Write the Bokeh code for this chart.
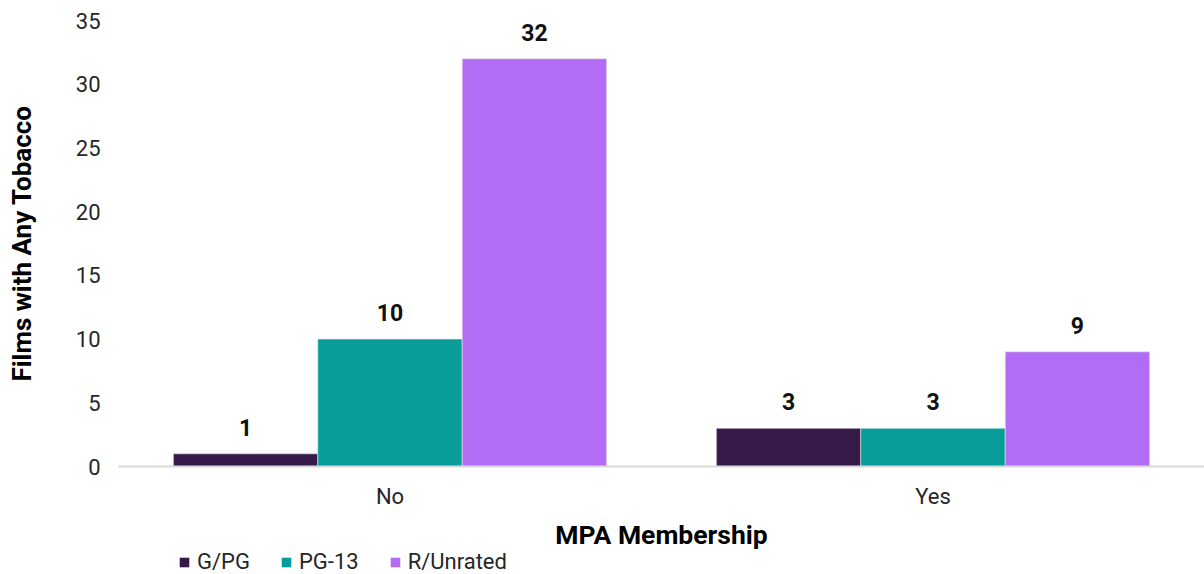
from bokeh.plotting import figure
from bokeh.models import ColumnDataSource, Legend, LegendItem
from bokeh.layouts import column
from bokeh.transform import dodge
from bokeh.embed import file_html
from bokeh.resources import INLINE
from bokeh.core.properties import value

categories = ["No", "Yes"]
series = ["G/PG", "PG-13", "R/Unrated"]
g_pg = [1, 3]
pg13 = [10, 3]
r_unrated = [32, 9]
colors = ["#351a4a", "#089c9a", "#b36cf5"]
y_ticks = [0, 5, 10, 15, 20, 25, 30, 35]

FONT = "Roboto"

p = figure(x_range=categories, y_range=(0, 35),
           frame_width=1086, frame_height=446,
           output_backend="svg", toolbar_location=None,
           min_border_left=118, min_border_right=0, min_border_top=20,
           min_border_bottom=78)
p.outline_line_color = None
p.xgrid.grid_line_color = None
p.ygrid.grid_line_color = None

src = ColumnDataSource(dict(cat=categories, g=g_pg, p13=pg13, r=r_unrated,
                            gl=[str(v) for v in g_pg], pl=[str(v) for v in pg13],
                            rl=[str(v) for v in r_unrated]))

w = 0.266
offsets = [-w, 0, w]
fields = ["g", "p13", "r"]
lfields = ["gl", "pl", "rl"]
for off, f, lf, c in zip(offsets, fields, lfields, colors):
    p.vbar(x=dodge("cat", off, range=p.x_range), top=f, width=w, source=src,
           fill_color=c, line_color="#e8e8e8", line_width=0.6)
    p.text(x=dodge("cat", off, range=p.x_range), y=f, text=lf, source=src,
           text_align="center", text_baseline="bottom", y_offset=-18,
           text_font=value(FONT), text_font_style="bold", text_font_size="23px",
           text_color="#111111")

p.yaxis.ticker = y_ticks
p.yaxis.axis_line_color = None
p.yaxis.major_tick_line_color = None
p.yaxis.minor_tick_line_color = None
p.yaxis.major_label_text_font = FONT
p.yaxis.major_label_text_font_size = "22px"
p.yaxis.major_label_text_color = "#262626"
p.yaxis.major_label_standoff = 12
p.yaxis.axis_label = "Films with Any Tobacco"
p.yaxis.axis_label_text_font = FONT
p.yaxis.axis_label_text_font_style = "bold"
p.yaxis.axis_label_text_font_size = "26px"
p.yaxis.axis_label_text_color = "#000000"
p.yaxis.axis_label_standoff = 36

p.xaxis.axis_line_color = "#d9d9d9"
p.xaxis.axis_line_width = 2
p.xaxis.major_tick_line_color = None
p.xaxis.minor_tick_line_color = None
p.xaxis.major_label_text_font = FONT
p.xaxis.major_label_text_font_size = "22px"
p.xaxis.major_label_text_color = "#262626"
p.xaxis.major_label_standoff = 11
p.xaxis.axis_label = "MPA Membership"
p.xaxis.axis_label_text_font = FONT
p.xaxis.axis_label_text_font_style = "bold"
p.xaxis.axis_label_text_font_size = "26.5px"
p.xaxis.axis_label_text_color = "#000000"
p.xaxis.axis_label_standoff = 7

# legend strip below the chart (same bars, hidden, used only for legend keys)
lg = figure(width=1204, height=30, x_range=categories, y_range=(0, 35),
            output_backend="svg", toolbar_location=None,
            x_axis_location=None, y_axis_location=None,
            min_border_left=0, min_border_right=0, min_border_top=0,
            min_border_bottom=0)
lg.outline_line_color = None
lg.xgrid.grid_line_color = None
lg.ygrid.grid_line_color = None
items = []
for s, off, f, c in zip(series, offsets, fields, colors):
    r = lg.vbar(x=dodge("cat", off, range=lg.x_range), top=f, width=w, source=src,
                fill_color=c, line_color=None, visible=False)
    items.append(LegendItem(label=s, renderers=[r]))
legend = Legend(items=items, orientation="horizontal", location=(60, 8),
                label_text_font=FONT, label_text_font_size="22px",
                label_text_color="#262626", glyph_width=12, glyph_height=12,
                spacing=30, padding=0, margin=0, border_line_color=None,
                background_fill_alpha=0, inactive_fill_alpha=0,
                label_standoff=7, label_height=20)
lg.add_layout(legend, "center")

layout = column(p, lg, spacing=0)
open("out.html", "w").write(file_html(layout, INLINE))
